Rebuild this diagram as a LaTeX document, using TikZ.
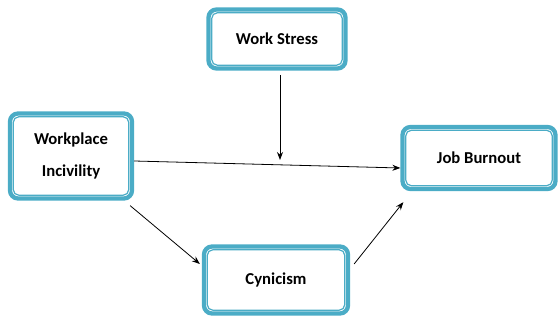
\documentclass[tikz,border=0pt]{standalone}
\usepackage{fontspec}
\setmainfont{Carlito}
\usepackage{xcolor}
\usetikzlibrary{arrows.meta}
\definecolor{boxteal}{RGB}{75,172,198}

\tikzset{
  varbox/.style={draw=boxteal, line width=3.2pt, rounded corners=6pt, fill=white,
    align=center, font=\bfseries\fontsize{12.5}{24}\selectfont, inner sep=0pt},
  innerframe/.style={draw=boxteal, line width=0.9pt, rounded corners=4pt},
  link/.style={-{Stealth[length=6pt,width=4.5pt]}, line width=0.6pt, black}
}

\begin{document}
\begin{tikzpicture}[x=0.75pt, y=-0.75pt]
      \useasboundingbox (0,0) rectangle (558,320);
      % variables
      \node[varbox, minimum width=137*0.75pt, minimum height=59*0.75pt] (stress) at (277,39) {Work Stress};
      \node[varbox, minimum width=122*0.75pt, minimum height=85*0.75pt] (incivility) at (71,156) {Workplace\\Incivility};
      \node[varbox, minimum width=153*0.75pt, minimum height=62*0.75pt] (burnout) at (479,158) {Job Burnout};
      \node[varbox, minimum width=144*0.75pt, minimum height=67*0.75pt] (cynicism) at (276,280) {Cynicism};
      % thin inner frame of each box
      \foreach \n in {stress,incivility,burnout,cynicism}
        \draw[innerframe] ([shift={(4.1pt,-4.1pt)}]\n.north west) rectangle ([shift={(-4.1pt,4.1pt)}]\n.south east);
      % moderator lands on the main path
      \coordinate (onpath) at (280,160);
      % paths
      \draw[link] (incivility.east |- 0,161) -- (burnout.west |- 0,168);
      \draw[link] (onpath |- 0,75) -- (onpath);
      \draw[link] ([shift={(-4,5)}]incivility.south east) -- ([shift={(-2,-16)}]cynicism.west);
      \draw[link] ([shift={(4,-16)}]cynicism.east) -- ([shift={(3,11)}]burnout.south west);
\end{tikzpicture}
\end{document}
